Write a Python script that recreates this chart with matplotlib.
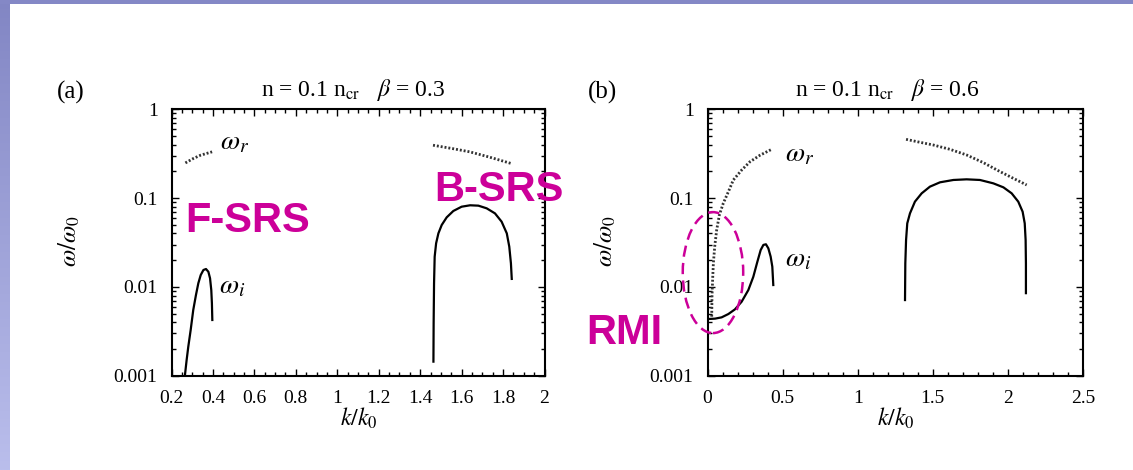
import numpy as np
import matplotlib
matplotlib.use('Agg')
import matplotlib.pyplot as plt
from matplotlib.patches import Ellipse, Rectangle
from matplotlib.colors import LinearSegmentedColormap
from matplotlib.ticker import MultipleLocator, LogLocator, NullFormatter

plt.rcParams['font.family'] = 'serif'
plt.rcParams['font.serif'] = ['Liberation Serif', 'DejaVu Serif']
plt.rcParams['mathtext.fontset'] = 'stix'

# panel (a): n = 0.1 ncr, beta = 0.3
a_r_lo_k = [0.267, 0.305, 0.340, 0.396]
a_r_lo = [0.249, 0.279, 0.304, 0.332]
a_r_hi_k = [1.462, 1.556, 1.639, 1.733, 1.840]
a_r_hi = [0.394, 0.361, 0.332, 0.290, 0.245]
a_i_lo_k = [0.265, 0.273, 0.281, 0.2925, 0.305, 0.318, 0.3295, 0.341, 0.354,
            0.3665, 0.378, 0.386, 0.392, 0.395, 0.397]
a_i_lo = [0.00102, 0.0015, 0.00212, 0.00327, 0.0055, 0.0081, 0.011, 0.0136, 0.0155,
          0.0159, 0.0148, 0.0125, 0.0092, 0.00653, 0.00424]
a_i_hi_k = [1.464, 1.465, 1.467, 1.470, 1.477, 1.488, 1.504, 1.528, 1.560, 1.600,
            1.641, 1.681, 1.721, 1.761, 1.793, 1.818, 1.830, 1.838, 1.842]
a_i_hi = [0.00144, 0.00389, 0.01097, 0.0219, 0.0310, 0.0401, 0.0498, 0.0607, 0.0716, 0.080,
          0.083, 0.0822, 0.0767, 0.0673, 0.0543, 0.0401, 0.0284, 0.0184, 0.0123]

# panel (b): n = 0.1 ncr, beta = 0.6
b_r_lo_k = [0.028, 0.030, 0.034, 0.039, 0.048, 0.061, 0.079, 0.105, 0.139, 0.172,
            0.2275, 0.283, 0.351, 0.427]
b_r_lo = [0.00462, 0.00776, 0.01197, 0.0184, 0.0284, 0.0437, 0.0646, 0.0874, 0.118, 0.160,
          0.207, 0.257, 0.305, 0.354]
b_r_hi_k = [1.322, 1.415, 1.504, 1.615, 1.725, 1.836, 1.947, 2.036, 2.125]
b_r_hi = [0.459, 0.425, 0.396, 0.354, 0.306, 0.251, 0.199, 0.167, 0.1405]
b_i_lo_k = [0.0055, 0.050, 0.094, 0.139, 0.183, 0.2275, 0.272, 0.305, 0.332, 0.354,
            0.372, 0.389, 0.405, 0.4205, 0.4315, 0.438]
b_i_lo = [0.00435, 0.00439, 0.00454, 0.00495, 0.00559, 0.00682, 0.00923, 0.0130, 0.0192, 0.0260,
          0.0297, 0.0302, 0.0272, 0.0219, 0.0169, 0.0105]
b_i_hi_k = [1.315, 1.317, 1.322, 1.330, 1.348, 1.381, 1.426, 1.481, 1.548, 1.637, 1.725,
            1.814, 1.903, 1.970, 2.025, 2.069, 2.098, 2.112, 2.118, 2.120, 2.120]
b_i_hi = [0.00711, 0.0184, 0.0337, 0.052, 0.0673, 0.0912, 0.1132, 0.1346, 0.1506, 0.160, 0.1627,
          0.160, 0.1466, 0.1322, 0.1132, 0.0912, 0.0703, 0.052, 0.0337, 0.0184, 0.0085]

a_xticks = [0.2, 0.4, 0.6, 0.8, 1.0, 1.2, 1.4, 1.6, 1.8, 2.0]
a_xlabels = ['0.2', '0.4', '0.6', '0.8', '1', '1.2', '1.4', '1.6', '1.8', '2']
b_xticks = [0, 0.5, 1.0, 1.5, 2.0, 2.5]
b_xlabels = ['0', '0.5', '1', '1.5', '2', '2.5']
yticks = [0.001, 0.01, 0.1, 1]
ylabels = ['0.001', '0.01', '0.1', '1']

W, H = 1133, 470
fig = plt.figure(figsize=(W / 100, H / 100), dpi=100)

# slide frame: gradient bar on the left, thin bar on top
side = fig.add_axes([0, 0, 10 / W, 1])
cmap = LinearSegmentedColormap.from_list('side', ['#8286c4', '#babeec'])
side.imshow(np.linspace(0, 1, 256).reshape(-1, 1), aspect='auto', cmap=cmap)
side.axis('off')
fig.add_artist(Rectangle((0, 1 - 4 / H), 1, 4 / H, transform=fig.transFigure,
                         color='#8488c6', lw=0))

magenta = '#cc0099'


def px(x, y):
    return x / W, 1 - y / H


def setup(ax, xlim, xticks, xlabels, minor):
    ax.set_yscale('log')
    ax.set_ylim(0.001, 1)
    ax.set_xlim(*xlim)
    ax.set_yticks(yticks)
    ax.set_yticklabels(ylabels)
    ax.yaxis.set_minor_locator(LogLocator(subs=np.arange(2, 10)))
    ax.yaxis.set_minor_formatter(NullFormatter())
    ax.set_xticks(xticks)
    ax.set_xticklabels(xlabels)
    ax.xaxis.set_minor_locator(MultipleLocator(minor))
    ax.tick_params(which='both', direction='in', top=True, right=True,
                   labelsize=14, width=1, pad=10, colors='black')
    ax.tick_params(which='major', length=5)
    ax.tick_params(which='minor', length=3)
    for s in ax.spines.values():
        s.set_linewidth(1.5)


dot = dict(color='#333333', lw=2, ls=(0, (0.7, 0.7)))
solid = dict(color='black', lw=1.6)

ax_a = fig.add_axes([171.5 / W, (H - 375.7) / H, 373 / W, 266.4 / H])
setup(ax_a, (0.2, 2.0), a_xticks, a_xlabels, 0.05)
ax_a.plot(a_r_lo_k, a_r_lo, **dot)
ax_a.plot(a_r_hi_k, a_r_hi, **dot)
ax_a.plot(a_i_lo_k, a_i_lo, **solid)
ax_a.plot(a_i_hi_k, a_i_hi, **solid)
ax_a.text(0.433, 0.417, r'$\omega_r$', fontsize=20, va='center')
ax_a.text(0.430, 0.010, r'$\omega_i$', fontsize=20, va='center')

ax_b = fig.add_axes([707.5 / W, (H - 375.7) / H, 375.5 / W, 266.4 / H])
setup(ax_b, (0, 2.5), b_xticks, b_xlabels, 0.1)
ax_b.plot(b_r_lo_k, b_r_lo, **dot)
ax_b.plot(b_r_hi_k, b_r_hi, **dot)
ax_b.plot(b_i_lo_k, b_i_lo, **solid)
ax_b.plot(b_i_hi_k, b_i_hi, **solid)
ax_b.text(0.516, 0.306, r'$\omega_r$', fontsize=20, va='center')
ax_b.text(0.516, 0.0201, r'$\omega_i$', fontsize=20, va='center')
ax_b.add_patch(Ellipse((0.0146, 0.387), 0.161, 0.454, transform=ax_b.transAxes,
                       fill=False, ec=magenta, lw=1.8, ls=(0, (4.5, 2.5)),
                       clip_on=False, zorder=5))

# titles, panel tags, axis labels
for x, beta in [(353, '0.3'), (887, '0.6')]:
    fig.text(*px(x, 96), r'n = 0.1 n$_{\rm cr}$   $\beta$ = ' + beta,
             fontsize=17, ha='center', va='baseline')
fig.text(*px(57, 92), '(a)', fontsize=18, ha='left', va='center')
fig.text(*px(588, 92), '(b)', fontsize=18, ha='left', va='center')
for x in (69, 605):
    fig.text(*px(x, 241), r'$\omega/\omega_0$', fontsize=18, rotation=90,
             ha='center', va='center')
for x in (358.5, 896):
    fig.text(*px(x, 418), r'$k/k_0$', fontsize=17, ha='center', va='center')

# annotations
lab = dict(color=magenta, fontsize=30, fontweight='bold',
           family='Liberation Sans', va='baseline', ha='left')
fig.text(*px(185, 232), 'F-SRS', **lab)
fig.text(*px(434, 201), 'B-SRS', **lab)
fig.text(*px(586, 344), 'RMI', **lab)

fig.savefig('out.png', dpi=100)
